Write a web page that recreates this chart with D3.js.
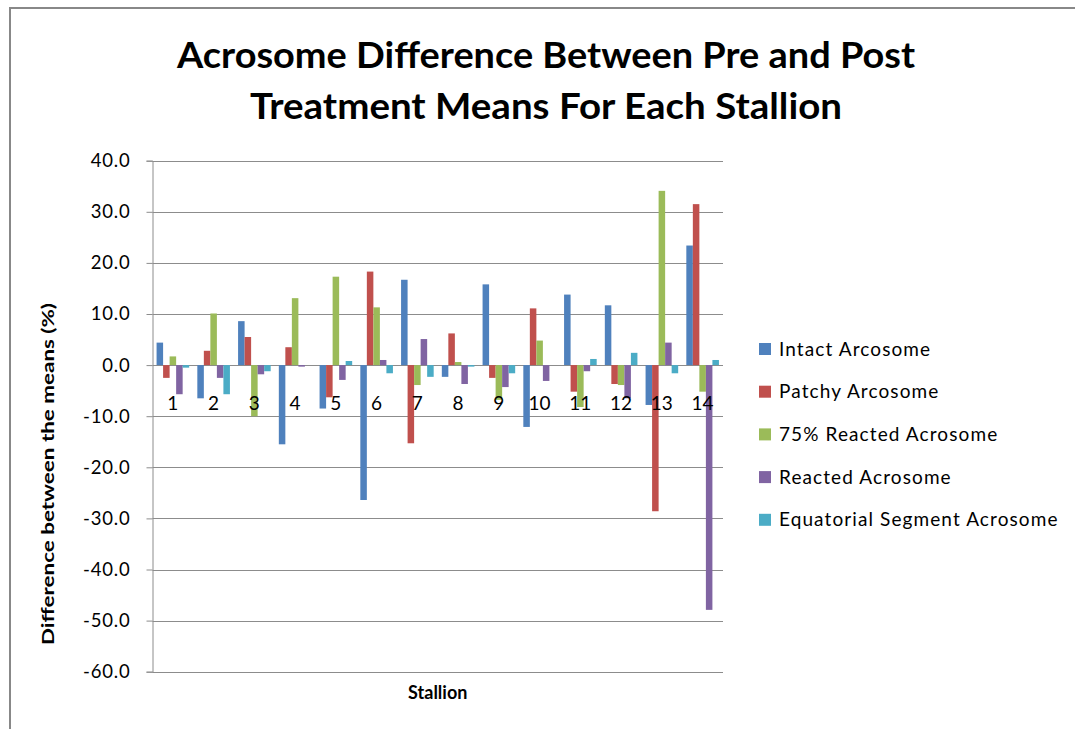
<!DOCTYPE html>
<html>
<head>
<meta charset="utf-8">
<script src="https://cdn.jsdelivr.net/npm/d3@7"></script>
<style>
  body { margin: 0; background: #fff; }
  svg text { font-family: Lato, "Open Sans", sans-serif; fill: #000; }
</style>
</head>
<body>
<svg id="chart" width="1075" height="729"></svg>
<script>
const stallions = ["1", "2", "3", "4", "5", "6", "7", "8", "9", "10", "11", "12", "13", "14"];
const seriesNames = ["Intact Arcosome", "Patchy Arcosome", "75% Reacted Acrosome",
  "Reacted Acrosome", "Equatorial Segment Acrosome"];
const intact = [4.4, -6.5, 8.6, -15.5, -8.5, -26.4, 16.7, -2.3, 15.8, -12.1, 13.8, 11.7, -7.8, 23.4];
const patchy = [-2.5, 2.8, 5.5, 3.5, -6.3, 18.3, -15.3, 6.2, -2.5, 11.1, -5.2, -3.7, -28.6, 31.5];
const reacted75 = [1.7, 10.1, -10.0, 13.1, 17.3, 11.3, -3.9, 0.6, -6.8, 4.8, -8.2, -3.9, 34.1, -5.2];
const reacted = [-5.7, -2.5, -1.8, -0.3, -2.9, 1.0, 5.1, -3.7, -4.3, -3.1, -1.2, -6.5, 4.4, -47.9];
const equatorial = [-0.5, -5.7, -1.2, 0, 0.8, -1.6, -2.3, -0.3, -1.6, 0, 1.2, 2.4, -1.6, 1.0];
const yTicks = [-60, -50, -40, -30, -20, -10, 0, 10, 20, 30, 40];

const colors = ["#4f81bd", "#c0504d", "#9bbb59", "#8064a2", "#4bacc6"];
const allSeries = [intact, patchy, reacted75, reacted, equatorial];

const svg = d3.select("#chart");
const plot = { left: 152.5, right: 723, top: 160.7, bottom: 671.7 };
const gridColor = "#8c8c8c";

// chart border (top and left visible)
svg.append("path")
  .attr("d", "M10,729 L10,8 L1075,8")
  .attr("fill", "none")
  .attr("stroke", "#888")
  .attr("stroke-width", 2);

const x = d3.scaleBand()
  .domain(stallions)
  .range([plot.left, plot.right])
  .paddingInner(0.2)
  .paddingOuter(0.1);

const xSub = d3.scaleBand()
  .domain(d3.range(seriesNames.length))
  .range([0, x.bandwidth()]);

const y = d3.scaleLinear()
  .domain([-60, 40])
  .range([plot.bottom, plot.top]);

// gridlines
svg.append("g")
  .selectAll("line")
  .data(yTicks)
  .join("line")
  .attr("x1", plot.left)
  .attr("x2", plot.right)
  .attr("y1", d => Math.round(y(d)) + 0.5)
  .attr("y2", d => Math.round(y(d)) + 0.5)
  .attr("stroke", gridColor)
  .attr("stroke-width", 1);

// y axis
const yAxis = svg.append("g")
  .attr("transform", "translate(" + plot.left + ",0)")
  .call(d3.axisLeft(y)
    .tickValues(yTicks)
    .tickSize(6)
    .tickPadding(16)
    .tickFormat(d => d3.format(".1f")(d).replace("\u2212", "-")));
yAxis.select(".domain").attr("stroke", gridColor);
yAxis.selectAll(".tick line").attr("stroke", gridColor);
yAxis.selectAll(".tick text")
  .attr("font-size", 18.5)
  .attr("font-family", "Lato, sans-serif")
  .attr("letter-spacing", 0.8)
  .attr("fill", "#000");

// bars
const groups = svg.append("g")
  .selectAll("g")
  .data(stallions)
  .join("g")
  .attr("transform", d => "translate(" + x(d) + ",0)");

groups.selectAll("rect")
  .data((d, i) => allSeries.map((s, k) => ({ k: k, v: s[i] })))
  .join("rect")
  .attr("x", d => xSub(d.k))
  .attr("width", xSub.bandwidth())
  .attr("y", d => y(Math.max(0, d.v)))
  .attr("height", d => Math.abs(y(d.v) - y(0)))
  .attr("fill", d => colors[d.k]);

// category labels
svg.append("g")
  .selectAll("text")
  .data(stallions)
  .join("text")
  .attr("x", d => x(d) + x.bandwidth() / 2)
  .attr("y", 410)
  .attr("text-anchor", "middle")
  .attr("font-size", 19)
  .text(d => d);

// titles
svg.append("text")
  .attr("x", 546).attr("y", 68)
  .attr("text-anchor", "middle")
  .attr("font-size", 37).attr("font-weight", "bold")
  .attr("textLength", 738).attr("lengthAdjust", "spacingAndGlyphs")
  .text("Acrosome Difference Between Pre and Post");
svg.append("text")
  .attr("x", 546).attr("y", 119)
  .attr("text-anchor", "middle")
  .attr("font-size", 37).attr("font-weight", "bold")
  .attr("textLength", 592).attr("lengthAdjust", "spacingAndGlyphs")
  .text("Treatment Means For Each Stallion");

svg.append("text")
  .attr("x", (plot.left + plot.right) / 2).attr("y", 699)
  .attr("text-anchor", "middle")
  .attr("font-size", 18).attr("font-weight", "bold")
  .text("Stallion");

svg.append("text")
  .attr("transform", "translate(54,474) rotate(-90)")
  .attr("text-anchor", "middle")
  .attr("font-size", 17.5).attr("font-weight", "bold")
  .attr("textLength", 342).attr("lengthAdjust", "spacingAndGlyphs")
  .text("Difference between the means (%)");

// legend
const legend = svg.append("g")
  .selectAll("g")
  .data(seriesNames)
  .join("g")
  .attr("transform", (d, i) => "translate(759," + (349 + i * 42.7) + ")");
legend.append("rect")
  .attr("x", 0).attr("y", -6)
  .attr("width", 12).attr("height", 12)
  .attr("fill", (d, i) => colors[i]);
legend.append("text")
  .attr("x", 20).attr("y", 6.5)
  .attr("font-size", 19)
  .attr("letter-spacing", 1.1)
  .attr("fill", "#1a1a1a")
  .text(d => d);
</script>
</body>
</html>
